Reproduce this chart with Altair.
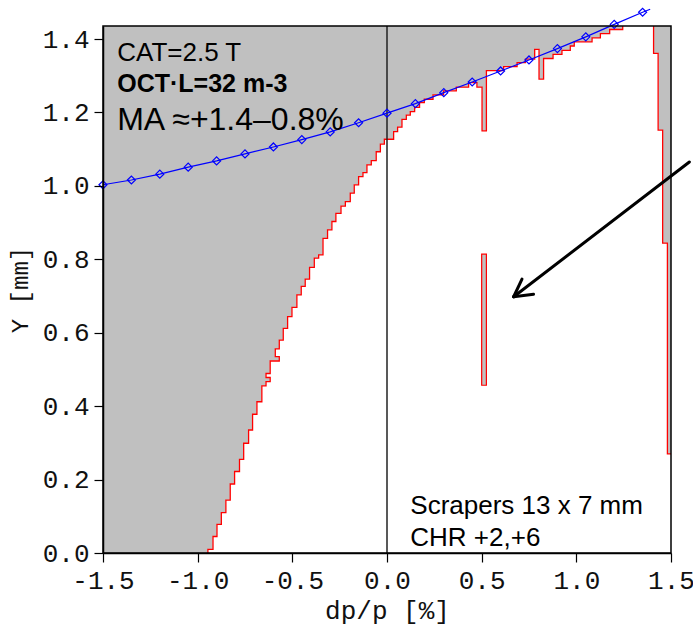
import altair as alt
import pandas as pd

# ---------------- data ----------------
X_MIN, X_MAX = -1.5, 1.5
Y_MIN, Y_MAX = 0.0, 1.4355

X_TICKS = [-1.5, -1.0, -0.5, 0.0, 0.5, 1.0, 1.5]
Y_TICKS = [0.0, 0.2, 0.4, 0.6, 0.8, 1.0, 1.2, 1.4]

# aperture boundary (staircase): at STEP_X[i] go vertically to STEP_Y[i], then across to STEP_X[i+1]
STEP_X = [-0.946, -0.919, -0.898, -0.875, -0.851, -0.828, -0.805, -0.779, -0.757, -0.731,
          -0.710, -0.687, -0.661, -0.639, -0.617, -0.639, -0.617, -0.569, -0.590, -0.569,
          -0.548, -0.525, -0.502, -0.476, -0.453, -0.432, -0.409, -0.384, -0.361, -0.338,
          -0.314, -0.291, -0.270, -0.243, -0.220, -0.194, -0.173, -0.150, -0.127, -0.106,
          -0.083, -0.057, -0.035, -0.014, 0.035, 0.056, 0.079, 0.102, 0.123, 0.146,
          0.172, 0.197, 0.243, 0.299, 0.366, 0.431, 0.475, 0.502, 0.525, 0.616,
          0.687, 0.731, 0.780, 0.803, 0.827, 0.877, 0.924, 0.968, 0.989, 1.083,
          1.127, 1.176, 1.245]
STEP_Y = [0.010, 0.045, 0.078, 0.110, 0.144, 0.188, 0.222, 0.255, 0.299, 0.335,
          0.378, 0.412, 0.455, 0.467, 0.478, 0.489, 0.523, 0.535, 0.556, 0.580,
          0.612, 0.644, 0.669, 0.703, 0.726, 0.746, 0.778, 0.803, 0.812, 0.857,
          0.880, 0.903, 0.925, 0.945, 0.957, 0.980, 1.003, 1.025, 1.036, 1.057,
          1.069, 1.093, 1.114, 1.127, 1.148, 1.160, 1.181, 1.193, 1.202, 1.214,
          1.227, 1.236, 1.248, 1.259, 1.269, 1.281, 1.269, 1.150, 1.314, 1.325,
          1.336, 1.345, 1.372, 1.291, 1.347, 1.358, 1.369, 1.381, 1.392, 1.403,
          1.415, 1.426, 1.4355]

# right-hand edge staircase (from the top downwards)
RIGHT_X = [1.408, 1.432, 1.456, 1.481]
RIGHT_Y = [1.361, 1.152, 0.844, 0.270]

# isolated lost island near dp/p = 0.5
ISLAND_X = [0.500, 0.525]
ISLAND_Y = [0.457, 0.814]

# blue curve with diamond markers
BLUE_X = [-1.5, -1.35, -1.2, -1.05, -0.9, -0.75, -0.6, -0.45, -0.3, -0.15,
          0.0, 0.15, 0.3, 0.45, 0.6, 0.75, 0.9, 1.05, 1.2, 1.35]
BLUE_Y = [1.003, 1.016, 1.032, 1.051, 1.068, 1.087, 1.106, 1.126, 1.147, 1.172,
          1.198, 1.224, 1.254, 1.283, 1.313, 1.343, 1.374, 1.406, 1.440, 1.473]
BLUE_TAIL = (1.39, 1.481)

# arrow (tail -> tip, plus two barbs)
ARROW_X1 = [1.597, 0.669, 0.669]
ARROW_Y1 = [1.065, 0.698, 0.698]
ARROW_X2 = [0.669, 0.713, 0.774]
ARROW_Y2 = [0.698, 0.746, 0.705]

# ---------------- build tables ----------------
def stair(xs, ys, y0):
    pts, prev = [], y0
    for x, y in zip(xs, ys):
        pts.append((x, prev))
        pts.append((x, y))
        prev = y
    return pts

left_pts = stair(STEP_X, STEP_Y, Y_MIN)
right_pts = stair(RIGHT_X, RIGHT_Y, Y_MAX) + [(X_MAX, RIGHT_Y[-1])]
poly_pts = left_pts + right_pts + [(X_MAX, Y_MIN)]

poly_df = pd.DataFrame({"x": [p[0] for p in poly_pts],
                        "y": [p[1] for p in poly_pts],
                        "i": list(range(len(poly_pts)))})
red_rows = []
for seg, pts in (("a", left_pts), ("b", right_pts)):
    for k, (x, y) in enumerate(pts):
        red_rows.append({"x": x, "y": y, "i": k, "seg": seg})
red_df = pd.DataFrame(red_rows)

island_df = pd.DataFrame({"x": [ISLAND_X[0]], "x2": [ISLAND_X[1]],
                          "y": [ISLAND_Y[0]], "y2": [ISLAND_Y[1]]})
blue_line_df = pd.DataFrame({"x": BLUE_X + [BLUE_TAIL[0]], "y": BLUE_Y + [BLUE_TAIL[1]]})
blue_pt_df = pd.DataFrame({"x": BLUE_X, "y": BLUE_Y})
arrow_df = pd.DataFrame({"x": ARROW_X1, "y": ARROW_Y1, "x2": ARROW_X2, "y2": ARROW_Y2})
zero_df = pd.DataFrame({"x": [0.0], "y": [Y_MIN], "y2": [Y_MAX]})

W, H = 568, 527
xs = alt.Scale(domain=[X_MIN, X_MAX], nice=False, zero=False)
ys = alt.Scale(domain=[Y_MIN, Y_MAX], nice=False, zero=False)
MONO = "Liberation Mono"
SANS = "Liberation Sans"

x_axis = alt.Axis(values=X_TICKS, grid=False, zindex=1,
                  labelExpr="(datum.value < 0 ? '-' : '') + format(abs(datum.value), '.1f')",
                  labelFont=MONO, labelFontSize=26, labelColor="#111", labelPadding=5,
                  labelFlush=False, labelOverlap=False,
                  tickSize=9, tickColor="#000", tickWidth=1.2,
                  domainColor="#000", domainWidth=1.5,
                  titleFont=MONO, titleFontSize=26, titleFontWeight="normal",
                  titleColor="#111", titleX=W / 2, titleY=65, titleAlign="center",
                  titleBaseline="alphabetic")
y_axis = alt.Axis(values=Y_TICKS, grid=False, zindex=1, format=".1f",
                  labelFont=MONO, labelFontSize=26, labelColor="#111", labelPadding=5,
                  labelFlush=False, labelOverlap=False,
                  tickSize=9, tickColor="#000", tickWidth=1.2,
                  domainColor="#000", domainWidth=1.5,
                  titleFont=MONO, titleFontSize=24, titleFontWeight="normal",
                  titleColor="#111", titleX=-83, titleY=H / 2, titleAngle=270,
                  titleAlign="center", titleBaseline="middle")

X = alt.X("x:Q", scale=xs, axis=x_axis, title="dp/p [%]")
Y = alt.Y("y:Q", scale=ys, axis=y_axis, title="Y [mm]")

poly = alt.Chart(poly_df).mark_line(fill="white", stroke="white", strokeWidth=0.5).encode(
    x=X, y=Y, order="i:Q",
)
red = alt.Chart(red_df).mark_line(color="#ff0000", strokeWidth=1.3).encode(
    x=X, y=Y, detail="seg:N", order="i:Q",
)
island = alt.Chart(island_df).mark_rect(fill="#c0c0c0", stroke="#ff0000", strokeWidth=1.2).encode(
    x=X, x2="x2:Q", y=Y, y2="y2:Q",
)
zero_rule = alt.Chart(zero_df).mark_rule(color="#222", strokeWidth=1.5).encode(
    x=X, y=Y, y2="y2:Q",
)
blue_line = alt.Chart(blue_line_df).mark_line(color="#0000ff", strokeWidth=1.2).encode(
    x=X, y=Y,
)
blue_pts = alt.Chart(blue_pt_df).mark_point(shape="diamond", filled=False, color="#0000ff",
                                            size=64, strokeWidth=1.2, opacity=1).encode(
    x=X, y=Y,
)
arrow = alt.Chart(arrow_df).mark_rule(color="#000", strokeWidth=3, strokeCap="round").encode(
    x=X, x2="x2:Q", y=Y, y2="y2:Q",
)

def label(text, x, y, size, weight="normal"):
    df = pd.DataFrame({"x": [x], "y": [y], "t": [text]})
    return alt.Chart(df).mark_text(align="left", baseline="alphabetic", font=SANS,
                                   fontSize=size, fontWeight=weight, color="#000").encode(
        x=X, y=Y, text="t:N",
    )

texts = [
    label("CAT=2.5 T", -1.425, 1.340, 26),
    label("OCT\u00b7L=32 m-3", -1.425, 1.256, 25, "bold"),
    label("MA \u2248+1.4\u20130.8%", -1.425, 1.152, 32),
    label("Scrapers 13 x 7 mm", 0.123, 0.106, 26),
    label("CHR +2,+6", 0.123, 0.019, 26),
]

frame = alt.Chart(zero_df).mark_rect(filled=False, stroke="#000", strokeWidth=1.5).encode(
    x=alt.value(0), x2=alt.value(W), y=alt.value(0), y2=alt.value(H)
)

chart = alt.layer(poly, red, island, zero_rule, blue_line, blue_pts, *texts, arrow, frame).properties(
    width=W, height=H,
    autosize=alt.AutoSizeParams(type="none"),
    padding={"left": 103, "top": 26, "right": 22, "bottom": 76},
    background="white",
).configure_view(fill="#c0c0c0", stroke=None)

chart.save("out.html", embed_options={"renderer": "svg", "actions": False})
